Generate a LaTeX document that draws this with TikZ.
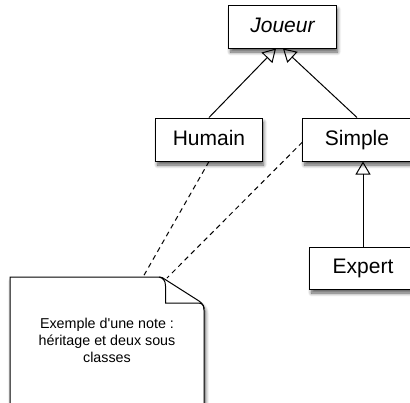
\documentclass[tikz,border=0pt]{standalone}
\usepackage{fontspec}
\setmainfont{Liberation Sans}[Ligatures=TeXOff]
\usetikzlibrary{arrows.meta,shadows.blur}

\begin{document}
\begin{tikzpicture}[x=1bp,y=-1bp,
  soft/.style={blur shadow={shadow xshift=1.5bp, shadow yshift=-4bp,
      shadow blur steps=8, shadow blur radius=3.5bp, shadow opacity=65}},
  cls/.style={draw, line width=1bp, fill=white, minimum height=43bp,
      inner sep=0pt, text height=15bp, text depth=4bp,
      font=\fontsize{21bp}{25bp}\selectfont, soft},
  inherit/.style={line width=1bp, -{Triangle[open,length=13bp,width=15bp]}},
  notelink/.style={line width=1bp, dash pattern=on 5bp off 4bp}]

\useasboundingbox (0,0) rectangle (410,403);
\clip (0,0) rectangle (410,403);

% class boxes
\node[cls, minimum width=107bp] (joueur) at (282.5,26.5) {\itshape Joueur};
\node[cls, minimum width=106bp] (humain) at (209,139.5) {Humain};
\node[cls, minimum width=108bp] (simple) at (357,139.5) {Simple};
\node[cls, minimum width=106bp, minimum height=42bp] (expert) at (363,268) {Expert};

% inheritance links
\draw[inherit] (humain.north) -- ([xshift=-6.5bp]joueur.south);
\draw[inherit] (simple.north) -- ([xshift=0.5bp]joueur.south);
\draw[inherit] (expert.north) -- (expert.north |- simple.south);

% note with folded corner
\path[draw, line width=1bp, fill=white, soft]
  (10,277) -- (158,277) .. controls (162,277) and (163.5,278) .. (166,280)
  -- (199,301) .. controls (203,304) and (204,306) .. (204,310)
  -- (204,420) -- (10,420) -- cycle;
\draw[line width=1bp] (159,277) .. controls (163.5,278) and (165.5,281) .. (165.5,286)
  -- (165.5,303) -- (198,303) .. controls (202,303) and (204,305) .. (204,309);
\node[align=center, inner sep=0pt, font=\fontsize{14.3bp}{17bp}\selectfont] (note)
  at (107,340) {Exemple d'une note :\\h\'eritage et deux sous\\classes};

\coordinate (noteA) at (143,277);
\coordinate (noteB) at (167,278);

% note attachments
\draw[notelink] (humain.south) -- (noteA);
\draw[notelink] ([yshift=-2.5bp]simple.west) -- (noteB);
\end{tikzpicture}
\end{document}
